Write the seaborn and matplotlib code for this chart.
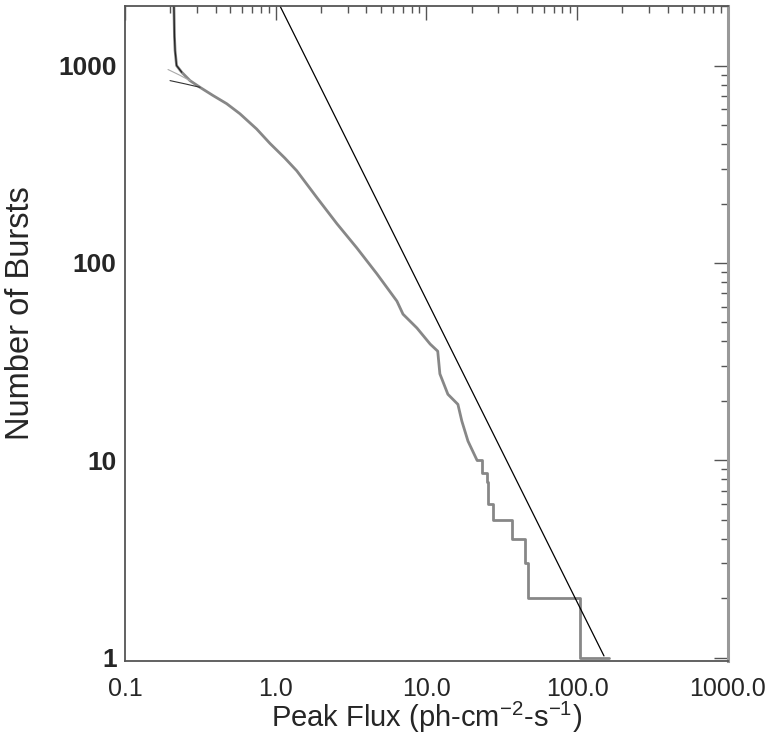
import numpy as np
import pandas as pd
import seaborn as sns
import matplotlib.pyplot as plt
from matplotlib.ticker import LogLocator, NullFormatter

# cumulative burst counts N(>S)
flux = [0.211, 0.213, 0.215, 0.220, 0.238, 0.270, 0.3145, 0.384, 0.473, 0.579,
        0.748, 0.917, 1.15, 1.38, 1.88, 2.55, 3.46, 4.70, 6.38, 7.0, 8.66,
        10.6, 11.9, 12.3, 13.9, 16.2, 17.2, 18.9, 21.7]
bursts = [2100, 1400, 1191, 1000, 925, 839, 776, 705, 641, 570,
          477, 403, 340, 293, 214, 158, 119, 88, 64, 55, 46.8,
          38.8, 35.7, 27.4, 21.6, 19.2, 15.8, 12.5, 10.0]

# faint stepped tail
tail_flux = [21.7, 23.4, 25.3, 25.6, 27.7, 37.2, 45.5, 47.6, 104, 162]
tail_bursts = [10, 8.6, 7.8, 6, 5, 4, 3, 2, 1, 1]

# model curves near the threshold
model_top_flux = [0.211, 0.213, 0.215, 0.220, 0.238]
model_top_bursts = [2100, 1400, 1191, 1000, 925]
model_a_flux = [0.193, 0.230, 0.270]
model_a_bursts = [955, 895, 839]
model_b_flux = [0.199, 0.250, 0.3145]
model_b_bursts = [839, 808, 776]

# -3/2 reference slope
line_flux = [1.07, 151]
line_bursts = [2000, 1.02]

xticks = [0.1, 1.0, 10.0, 100.0, 1000.0]
xticklabels = ["0.1", "1.0", "10.0", "100.0", "1000.0"]
yticks = [1, 10, 100, 1000]
yticklabels = ["1", "10", "100", "1000"]

sns.set_style("white")
plt.rcParams['font.family'] = ['Liberation Sans', 'DejaVu Sans']
plt.rcParams['mathtext.fontset'] = 'custom'
plt.rcParams['mathtext.rm'] = 'Liberation Sans'
plt.rcParams['mathtext.it'] = 'Liberation Sans'

fig = plt.figure(figsize=(7.72, 7.34), dpi=100)
ax = fig.add_axes([0.1619, 0.0999, 0.7807, 0.8923])

df = pd.DataFrame({"flux": flux, "bursts": bursts})
tail = pd.DataFrame({"flux": tail_flux, "bursts": tail_bursts})

sns.lineplot(data=df, x="flux", y="bursts", ax=ax, sort=False, estimator=None,
             color="#878787", lw=2.0)
sns.lineplot(data=tail, x="flux", y="bursts", ax=ax, sort=False, estimator=None,
             color="#878787", lw=2.0, drawstyle="steps-post")
sns.lineplot(x=model_top_flux, y=model_top_bursts, ax=ax, sort=False,
             estimator=None, color="#222222", lw=0.9)
sns.lineplot(x=model_a_flux, y=model_a_bursts, ax=ax, sort=False,
             estimator=None, color="#aaaaaa", lw=0.8)
sns.lineplot(x=model_b_flux, y=model_b_bursts, ax=ax, sort=False,
             estimator=None, color="#333333", lw=0.8)
sns.lineplot(x=line_flux, y=line_bursts, ax=ax, sort=False,
             estimator=None, color="black", lw=0.9)

ax.set_xscale("log")
ax.set_yscale("log")
ax.set_xlim(0.1, 1000)
ax.set_ylim(0.965, 2010)

ax.set_xticks(xticks)
ax.set_xticklabels(xticklabels, fontsize=18)
ax.set_yticks(yticks)
ax.set_yticklabels(yticklabels, fontsize=19, fontweight="bold")
ax.xaxis.set_minor_locator(LogLocator(base=10, subs=np.arange(2, 10)))
ax.yaxis.set_minor_locator(LogLocator(base=10, subs=np.arange(2, 10)))
ax.xaxis.set_minor_formatter(NullFormatter())
ax.yaxis.set_minor_formatter(NullFormatter())

ax.tick_params(which="both", direction="in", top=True, right=True,
               color="#555555", width=1.0)
ax.tick_params(which="major", length=10)
ax.tick_params(which="minor", length=5)
ax.tick_params(axis="x", which="major", pad=12)
ax.tick_params(axis="y", which="major", pad=6)

for side in ["left", "top", "bottom"]:
    ax.spines[side].set_color("#555555")
    ax.spines[side].set_linewidth(1.3)
ax.spines["right"].set_color("#999999")
ax.spines["right"].set_linewidth(2.2)

ax.set_xlabel("Peak Flux (ph-cm$^{-2}$-s$^{-1}$)", fontsize=21)
ax.set_ylabel("Number of Bursts", fontsize=23.5)
ax.xaxis.set_label_coords(0.5, -0.06)
ax.yaxis.set_label_coords(-0.147, 0.53)

fig.savefig("out.png", dpi=100)
